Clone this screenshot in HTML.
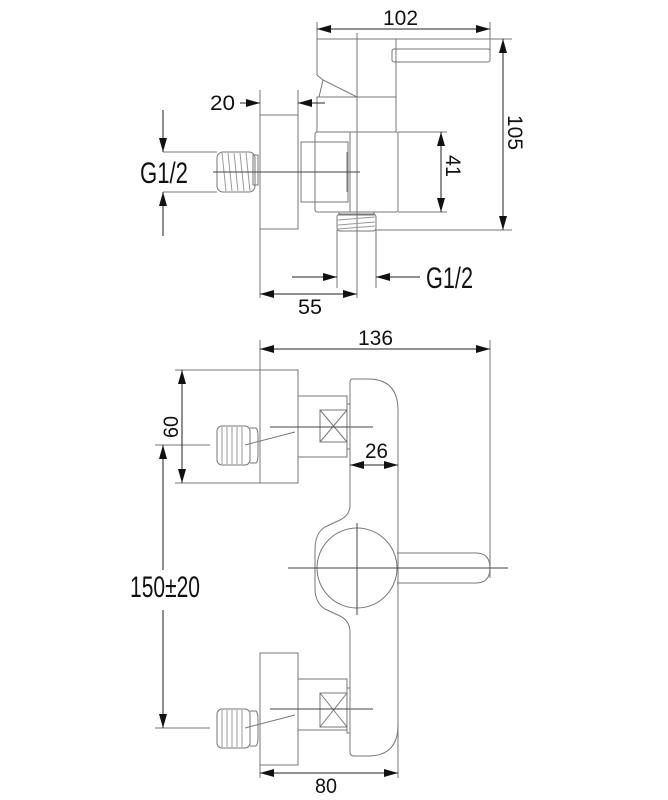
<!DOCTYPE html>
<html><head><meta charset="utf-8"><style>
html,body{margin:0;padding:0;background:#fff}
svg{display:block}
text{font-family:"Liberation Sans",sans-serif;font-size:21px;fill:#111}
text.big{font-size:30px}
</style></head><body>
<svg width="668" height="800" viewBox="0 0 668 800" xmlns="http://www.w3.org/2000/svg">
<defs>
<marker id="a" markerWidth="14" markerHeight="8" refX="14" refY="4" orient="auto" markerUnits="userSpaceOnUse"><path d="M0,0 L14,4 L0,8 Z" fill="#111"/></marker>
</defs>
<g fill="none" stroke="#777" stroke-width="1">
<line x1="317" y1="22" x2="317" y2="39"/>
<line x1="490" y1="22" x2="490" y2="60"/>
<line x1="396" y1="39" x2="512" y2="39"/>
<line x1="376" y1="230" x2="512" y2="230"/>
<line x1="398" y1="132" x2="447" y2="132"/>
<line x1="398" y1="212" x2="447" y2="212"/>
<line x1="260" y1="90" x2="260" y2="115"/>
<line x1="298" y1="90" x2="298" y2="115"/>
<line x1="163" y1="152" x2="217" y2="152"/>
<line x1="163" y1="192" x2="217" y2="192"/>
<line x1="260" y1="229" x2="260" y2="298"/>
<line x1="357" y1="33" x2="357" y2="298"/>
<line x1="337" y1="230" x2="337" y2="288"/>
<line x1="376" y1="230" x2="376" y2="288"/>
<path d="M317,39 H396 V97 H357 L323,80 L317,75 Z"/>
<path d="M323,80 L319,97"/>
<rect x="392" y="49" width="98" height="13" rx="2"/>
<line x1="396" y1="49" x2="396" y2="66"/>
<rect x="317" y="97" width="79" height="35"/>
<rect x="315" y="132" width="83" height="80" rx="2"/>
<line x1="350" y1="132" x2="350" y2="212"/>
<rect x="301" y="142" width="47" height="60"/>
<line x1="347" y1="152" x2="347" y2="192"/>
<rect x="260" y="115" width="38" height="114"/>
<rect x="217" y="152" width="38" height="40" rx="6"/>
<rect x="253" y="155" width="5" height="30"/>
<g stroke="#999"><line x1="222" y1="153" x2="226" y2="191"/><line x1="228" y1="153" x2="232" y2="191"/><line x1="234" y1="153" x2="238" y2="191"/><line x1="240" y1="153" x2="244" y2="191"/><line x1="246" y1="153" x2="250" y2="191"/></g>
<line x1="213" y1="172" x2="360" y2="172" stroke="#444"/>
<rect x="337" y="214" width="39" height="17" rx="3"/>
<rect x="339" y="212" width="35" height="3"/>
<g stroke="#999"><line x1="338" y1="220" x2="375" y2="217"/><line x1="338" y1="225" x2="375" y2="222"/><line x1="338" y1="229" x2="375" y2="226"/></g>
<g stroke="#222">
<line x1="337" y1="29" x2="317" y2="29" marker-end="url(#a)"/>
<line x1="330" y1="29" x2="490" y2="29" marker-end="url(#a)"/>
<line x1="503" y1="60" x2="503" y2="39" marker-end="url(#a)"/>
<line x1="503" y1="60" x2="503" y2="230" marker-end="url(#a)"/>
<line x1="441" y1="160" x2="441" y2="132" marker-end="url(#a)"/>
<line x1="441" y1="160" x2="441" y2="212" marker-end="url(#a)"/>
<line x1="240" y1="103" x2="260" y2="103" marker-end="url(#a)"/>
<line x1="325" y1="103" x2="298" y2="103" marker-end="url(#a)"/>
<line x1="163" y1="110" x2="163" y2="152" marker-end="url(#a)"/>
<line x1="163" y1="236" x2="163" y2="192" marker-end="url(#a)"/>
<line x1="292" y1="277" x2="337" y2="277" marker-end="url(#a)"/>
<line x1="420" y1="277" x2="376" y2="277" marker-end="url(#a)"/>
<line x1="300" y1="294" x2="260" y2="294" marker-end="url(#a)"/>
<line x1="300" y1="294" x2="357" y2="294" marker-end="url(#a)"/>
</g>

<line x1="260" y1="340" x2="260" y2="370"/>
<line x1="490" y1="340" x2="490" y2="578"/>
<line x1="175" y1="370" x2="260" y2="370"/>
<line x1="175" y1="483" x2="260" y2="483"/>
<line x1="155" y1="445" x2="210" y2="445"/>
<line x1="155" y1="728" x2="210" y2="728"/>
<line x1="260" y1="765" x2="260" y2="778"/>
<line x1="398" y1="585" x2="398" y2="778"/>
<rect x="260" y="370" width="38" height="113"/>
<rect x="298" y="396" width="49" height="61"/>
<rect x="347" y="404" width="3" height="45"/>
<rect x="320" y="410" width="27" height="32"/>
<path d="M320,410 L347,442 M347,410 L320,442"/>
<rect x="217" y="426" width="33" height="39" rx="5"/>
<path d="M250,428 H256 Q258,430 258,436 V455 Q258,461 256,463 H250"/>
<g stroke="#999"><line x1="222" y1="427" x2="222" y2="464"/><line x1="227" y1="427" x2="227" y2="464"/><line x1="232" y1="427" x2="232" y2="464"/><line x1="237" y1="427" x2="237" y2="464"/><line x1="242" y1="427" x2="242" y2="464"/></g>
<line x1="270" y1="427" x2="373" y2="427" stroke="#444"/>
<line x1="245" y1="445" x2="295" y2="432"/>
<rect x="260" y="653" width="38" height="112"/>
<rect x="298" y="679" width="49" height="51"/>
<rect x="347" y="688" width="3" height="45"/>
<rect x="320" y="693" width="27" height="34"/>
<path d="M320,693 L347,727 M347,693 L320,727"/>
<rect x="217" y="709" width="33" height="39" rx="5"/>
<path d="M250,711 H256 Q258,713 258,719 V738 Q258,744 256,746 H250"/>
<g stroke="#999"><line x1="222" y1="710" x2="222" y2="747"/><line x1="227" y1="710" x2="227" y2="747"/><line x1="232" y1="710" x2="232" y2="747"/><line x1="237" y1="710" x2="237" y2="747"/><line x1="242" y1="710" x2="242" y2="747"/></g>
<line x1="270" y1="709" x2="373" y2="709" stroke="#444"/>
<line x1="245" y1="728" x2="295" y2="715"/>
<path d="M353,379 H368 Q398,379 398,410 V725 Q398,756 368,756 H354 Q350,756 350,752 V632 Q350,621 340,616 L325,609 Q315,603 315,588 V550 Q315,533 325,527 L340,520 Q350,515 350,505 V382 Q350,379 353,379 Z"/>
<circle cx="357" cy="568" r="40"/>
<path d="M397,553 H476 Q490,553 490,568 Q490,583 476,583 H397"/>
<line x1="288" y1="568" x2="508" y2="568" stroke="#444"/>
<line x1="357" y1="523" x2="357" y2="615" stroke="#444"/>
<g stroke="#222">
<line x1="380" y1="349" x2="260" y2="349" marker-end="url(#a)"/>
<line x1="380" y1="349" x2="490" y2="349" marker-end="url(#a)"/>
<line x1="182" y1="420" x2="182" y2="370" marker-end="url(#a)"/>
<line x1="182" y1="420" x2="182" y2="483" marker-end="url(#a)"/>
<line x1="375" y1="465" x2="350" y2="465" marker-end="url(#a)"/>
<line x1="375" y1="465" x2="398" y2="465" marker-end="url(#a)"/>
<line x1="163" y1="570" x2="163" y2="445" marker-end="url(#a)"/>
<line x1="163" y1="610" x2="163" y2="728" marker-end="url(#a)"/>
<line x1="330" y1="773" x2="260" y2="773" marker-end="url(#a)"/>
<line x1="330" y1="773" x2="398" y2="773" marker-end="url(#a)"/>
</g>
</g>
<text x="383" y="25" textLength="35" lengthAdjust="spacingAndGlyphs">102</text>
<text x="210" y="110" textLength="25" lengthAdjust="spacingAndGlyphs">20</text>
<text class="big" x="140" y="183" textLength="48" lengthAdjust="spacingAndGlyphs">G1/2</text>
<text class="big" x="426" y="288" textLength="47" lengthAdjust="spacingAndGlyphs">G1/2</text>
<text x="298" y="314" textLength="24" lengthAdjust="spacingAndGlyphs">55</text>
<text transform="translate(508,115) rotate(90)" textLength="35" lengthAdjust="spacingAndGlyphs">105</text>
<text transform="translate(446,155) rotate(90)" textLength="22" lengthAdjust="spacingAndGlyphs">41</text>
<text x="358" y="345" textLength="35" lengthAdjust="spacingAndGlyphs">136</text>
<text transform="translate(178,438) rotate(-90)" textLength="22" lengthAdjust="spacingAndGlyphs">60</text>
<text x="365" y="458" textLength="23" lengthAdjust="spacingAndGlyphs">26</text>
<text class="big" x="130" y="597" textLength="70" lengthAdjust="spacingAndGlyphs">150±20</text>
<text x="315" y="793" textLength="22" lengthAdjust="spacingAndGlyphs">80</text>
</svg>
</body></html>
